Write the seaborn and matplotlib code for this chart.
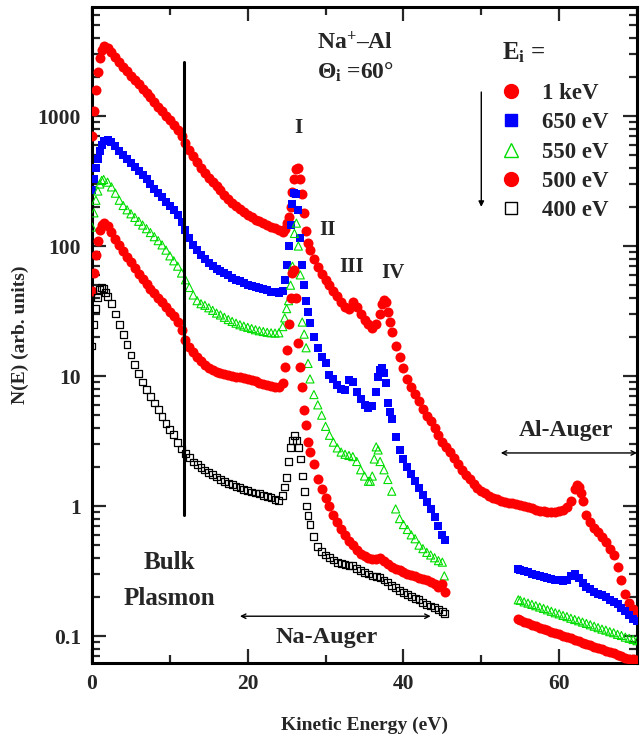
import numpy as np
import pandas as pd
import seaborn as sns
import matplotlib
matplotlib.use("Agg")
import matplotlib.pyplot as plt
from matplotlib.lines import Line2D
from matplotlib.ticker import LogLocator, FixedLocator, NullFormatter

# ---------------- data ----------------
# 1 keV (red filled circles), continuous 0-70 eV
e1000_x = [0, 0.25, 0.5, 0.75, 1.0, 1.25, 1.5, 2, 2.5, 3, 3.5, 4, 4.5, 5, 5.5, 6, 6.5, 7, 7.5, 8,
           8.5, 9, 9.5, 10, 10.5, 11, 11.5, 12, 12.5, 13, 13.5, 14, 14.5, 15, 15.5, 16, 16.5, 17,
           17.5, 18, 18.5, 19, 19.5, 20, 20.5, 21, 21.5, 22, 22.5, 23, 23.5, 24, 24.5, 24.75, 25,
           25.25, 25.5, 25.75, 26, 26.25, 26.5, 26.75, 27, 27.25, 27.5, 27.75, 28, 28.5, 29, 29.5,
           30, 30.5, 31, 31.5, 32, 32.5, 33, 33.5, 34, 34.5, 35, 35.5, 36, 36.5, 37, 37.25, 37.5,
           37.75, 38, 38.25, 38.5, 39, 39.5, 40, 40.5, 41, 41.5, 42, 42.5, 43, 43.5, 44, 44.5, 45,
           45.5, 46, 46.5, 47, 47.5, 48, 48.5, 49, 49.5, 50, 50.5, 51, 51.5, 52, 52.5, 53, 53.5,
           54, 54.5, 55, 55.5, 56, 56.5, 57, 57.5, 58, 58.5, 59, 59.5, 60, 60.5, 61, 61.5, 62,
           62.25, 62.5, 62.75, 63, 63.5, 64, 64.5, 65, 65.5, 66, 66.5, 67, 67.5, 68, 68.5, 69,
           69.5, 70]
e1000_y = [700, 1100, 1600, 2200, 2800, 3250, 3450, 3350, 3100, 2850, 2620, 2400, 2220, 2050, 1900,
           1760, 1620, 1500, 1390, 1280, 1180, 1090, 1000, 930, 860, 780, 700, 620, 550, 490, 440,
           400, 365, 335, 310, 288, 268, 248, 230, 215, 202, 192, 182, 174, 166, 160, 155, 150,
           145, 141, 137, 132, 128, 135, 150, 168, 200, 260, 330, 390, 400, 330, 250, 180, 130,
           105, 93, 80, 69, 61, 55, 50, 45, 41, 37, 34, 33, 37, 34, 30, 27, 25, 23.5, 25, 30, 36,
           38.5, 37, 31, 26, 22, 17, 14, 11.5, 9.5, 8.3, 7.3, 6.4, 5.6, 4.9, 4.5, 4.0, 3.5, 3.1,
           2.85, 2.6, 2.35, 2.1, 1.9, 1.72, 1.6, 1.48, 1.38, 1.3, 1.25, 1.2, 1.16, 1.13, 1.1,
           1.08, 1.06, 1.05, 1.04, 1.02, 1.0, 0.98, 0.96, 0.94, 0.92, 0.91, 0.9, 0.9, 0.9, 0.92,
           0.94, 0.98, 1.1, 1.35, 1.45, 1.4, 1.25, 1.1, 0.85, 0.75, 0.68, 0.63, 0.58, 0.53, 0.47,
           0.42, 0.34, 0.27, 0.21, 0.18, 0.16, 0.15]

# 650 eV (blue filled squares), two segments
e650_x1 = [0, 0.25, 0.5, 0.75, 1.0, 1.25, 1.5, 2, 2.5, 3, 3.5, 4, 4.5, 5, 5.5, 6, 6.5, 7, 7.5, 8,
           8.5, 9, 9.5, 10, 10.5, 11, 11.5, 12, 12.5, 13, 13.5, 14, 14.5, 15, 15.5, 16, 16.5, 17,
           17.5, 18, 18.5, 19, 19.5, 20, 20.5, 21, 21.5, 22, 22.5, 23, 23.5, 24, 24.5, 24.75, 25,
           25.25, 25.5, 25.75, 26, 26.25, 26.5, 26.75, 27, 27.25, 27.5, 27.75, 28, 28.5, 29, 29.5,
           30, 30.5, 31, 31.5, 32, 32.5, 33, 33.5, 34, 34.5, 35, 35.5, 36, 36.5, 36.75, 37, 37.25,
           37.5, 37.75, 38, 38.25, 38.5, 39, 39.5, 40, 40.5, 41, 41.5, 42, 42.5, 43, 43.5, 44,
           44.5, 45, 45.3]
e650_y1 = [270, 330, 400, 470, 540, 600, 640, 655, 630, 590, 540, 500, 465, 435, 405, 378, 350,
           325, 300, 275, 255, 237, 220, 205, 190, 172, 152, 133, 115, 102, 93, 85, 79, 74, 70, 67,
           64.5, 62, 59.5, 57, 55, 53.5, 52, 50.5, 49.5, 48.5, 47.5, 46.5, 45.5, 44.5, 44, 43.5,
           45, 55, 72, 100, 145, 210, 255, 250, 190, 115, 72, 50, 38, 31, 25.6, 20, 16.5, 14, 12.5,
           10.2, 9.5, 8.6, 7.9, 7.8, 9.3, 9.0, 7.6, 6.6, 6.0, 5.7, 5.9, 7.5, 9.8, 11.2, 11.5, 10.5,
           8.9, 6.2, 5.3, 4.7, 3.4, 2.7, 2.3, 2.0, 1.75, 1.55, 1.38, 1.22, 1.08, 0.95, 0.82, 0.7,
           0.6, 0.55]
e650_x2 = [54.75, 55, 55.5, 56, 56.5, 57, 57.5, 58, 58.5, 59, 59.5, 60, 60.5, 61, 61.5, 62, 62.5,
           63, 63.5, 64, 64.5, 65, 65.5, 66, 66.5, 67, 67.5, 68, 68.5, 69, 69.5, 70]
e650_y2 = [0.325, 0.32, 0.315, 0.31, 0.30, 0.295, 0.29, 0.285, 0.28, 0.275, 0.27, 0.268, 0.265,
           0.27, 0.29, 0.30, 0.28, 0.255, 0.24, 0.23, 0.22, 0.21, 0.205, 0.198, 0.19, 0.182,
           0.175, 0.165, 0.155, 0.145, 0.135, 0.13]

# 550 eV (green open triangles), two segments
e550_x1 = [0, 0.25, 0.5, 0.75, 1.0, 1.25, 1.5, 2, 2.5, 3, 3.5, 4, 4.5, 5, 5.5, 6, 6.5, 7, 7.5, 8,
           8.5, 9, 9.5, 10, 10.5, 11, 11.5, 12, 12.5, 13, 13.5, 14, 14.5, 15, 15.5, 16, 16.5, 17,
           17.5, 18, 18.5, 19, 19.5, 20, 20.5, 21, 21.5, 22, 22.5, 23, 23.5, 24, 24.5, 24.75, 25,
           25.25, 25.5, 25.75, 26, 26.25, 26.5, 26.75, 27, 27.25, 27.5, 27.75, 28, 28.5, 29, 29.5,
           30, 30.5, 31, 31.5, 32, 32.5, 33, 33.5, 34, 34.5, 35, 35.5, 35.75, 36, 36.25, 36.5,
           36.75, 37, 37.5, 38, 38.5, 39, 39.5, 40, 40.5, 41, 41.5, 42, 42.5, 43, 43.5, 44, 44.5,
           45, 45.25]
e550_y1 = [140, 180, 225, 265, 300, 320, 325, 310, 285, 255, 225, 205, 190, 177, 166, 155, 145,
           136, 127, 118, 110, 102, 93, 84, 77, 70, 62, 55, 48, 42, 38, 36, 35, 33.5, 32, 30.5,
           29.5, 28.3, 27.2, 26.3, 25.5, 24.8, 24.2, 23.7, 23.2, 22.7, 22.3, 22, 21.7, 21.5, 21.4,
           21.5, 24, 28, 33, 38, 50, 70, 125, 150, 100, 60, 26, 21, 16.5, 12.5, 9.5, 7.2, 6.0,
           5.0, 4.1, 3.5, 3.1, 2.8, 2.6, 2.5, 2.45, 2.4, 2.2, 1.9, 1.7, 1.55, 1.55, 1.7, 2.3,
           2.85, 2.7, 2.2, 1.9, 1.6, 1.3, 0.95, 0.8, 0.72, 0.66, 0.6, 0.56, 0.5, 0.47, 0.44, 0.42,
           0.4, 0.38, 0.37, 0.29]
e550_x2 = [54.75, 55, 55.5, 56, 56.5, 57, 57.5, 58, 58.5, 59, 59.5, 60, 60.5, 61, 61.5, 62, 62.5,
           63, 63.5, 64, 64.5, 65, 65.5, 66, 66.5, 67, 67.5, 68, 68.5, 69, 69.5, 70]
e550_y2 = [0.19, 0.188, 0.183, 0.179, 0.175, 0.171, 0.167, 0.163, 0.159, 0.155, 0.151, 0.148,
           0.144, 0.141, 0.137, 0.134, 0.131, 0.128, 0.125, 0.122, 0.119, 0.116, 0.113, 0.111,
           0.108, 0.106, 0.103, 0.101, 0.098, 0.096, 0.094, 0.092]

# 500 eV (red filled circles), two segments
e500_x1 = [0, 0.25, 0.5, 0.75, 1.0, 1.25, 1.5, 2, 2.5, 3, 3.5, 4, 4.5, 5, 5.5, 6, 6.5, 7, 7.5, 8,
           8.5, 9, 9.5, 10, 10.5, 11, 11.5, 12, 12.5, 13, 13.5, 14, 14.5, 15, 15.5, 16, 16.5, 17,
           17.5, 18, 18.5, 19, 19.5, 20, 20.5, 21, 21.5, 22, 22.5, 23, 23.5, 24, 24.5, 24.75, 25,
           25.25, 25.5, 25.75, 26, 26.25, 26.5, 26.75, 27, 27.25, 27.5, 27.75, 28, 28.5, 29, 29.5,
           30, 30.5, 31, 31.5, 32, 32.5, 33, 33.5, 34, 34.5, 35, 35.5, 36, 36.5, 37, 37.5, 38,
           38.5, 39, 39.5, 40, 40.5, 41, 41.5, 42, 42.5, 43, 43.5, 44, 44.5, 45, 45.3]
e500_y1 = [45, 62, 85, 110, 132, 146, 150, 142, 128, 114, 102, 92, 83, 75, 68, 61, 56, 51, 47,
           43.5, 40, 37, 34, 31, 29, 26, 22.5, 19, 16.8, 15.3, 14, 13, 12.2, 11.6, 11.1, 10.8,
           10.6, 10.4, 10.2, 10.05, 9.9, 9.8, 9.65, 9.5, 9.3, 9.1, 8.9, 8.7, 8.5, 8.35, 8.2, 8.2,
           8.8, 11.7, 15.8, 25, 40, 62, 65, 40, 18, 11.7, 8.2, 5.5, 4.2, 3.1, 2.6, 2.1, 1.6, 1.35,
           1.15, 1.0, 0.86, 0.75, 0.66, 0.6, 0.54, 0.5, 0.46, 0.43, 0.41, 0.4, 0.39, 0.39, 0.4,
           0.38, 0.36, 0.34, 0.33, 0.32, 0.31, 0.3, 0.295, 0.29, 0.28, 0.275, 0.27, 0.26, 0.25,
           0.24, 0.25, 0.22]
e500_x2 = [54.75, 55, 55.5, 56, 56.5, 57, 57.5, 58, 58.5, 59, 59.5, 60, 60.5, 61, 61.5, 62, 62.5,
           63, 63.5, 64, 64.5, 65, 65.5, 66, 66.5, 67, 67.5, 68, 68.5, 69, 69.5, 70]
e500_y2 = [0.134, 0.132, 0.128, 0.125, 0.122, 0.119, 0.116, 0.114, 0.111, 0.108, 0.105, 0.103,
           0.1, 0.098, 0.096, 0.094, 0.091, 0.089, 0.087, 0.085, 0.083, 0.081, 0.079, 0.077,
           0.075, 0.074, 0.072, 0.07, 0.068, 0.067, 0.066, 0.065]

# 400 eV (black open squares)
e400_x = [0, 0.25, 0.5, 0.75, 1.0, 1.25, 1.5, 1.75, 2, 2.5, 3, 3.5, 4, 4.5, 5, 5.5, 6, 6.5, 7, 7.5,
          8, 8.5, 9, 9.5, 10, 10.5, 11, 11.5, 12, 12.5, 13, 13.5, 14, 14.5, 15, 15.5, 16, 16.5, 17,
          17.5, 18, 18.5, 19, 19.5, 20, 20.5, 21, 21.5, 22, 22.5, 23, 23.5, 24, 24.5, 24.75, 25,
          25.25, 25.5, 25.75, 26, 26.25, 26.5, 26.75, 27, 27.25, 27.5, 27.75, 28, 28.5, 29, 29.5,
          30, 30.5, 31, 31.5, 32, 32.5, 33, 33.5, 34, 34.5, 35, 35.5, 36, 36.5, 37, 37.5, 38,
          38.5, 39, 39.5, 40, 40.5, 41, 41.5, 42, 42.5, 43, 43.5, 44, 44.5, 45, 45.3]
e400_y = [17, 25, 33, 40, 46, 48, 47, 44, 41, 36, 30, 25, 21, 17.5, 14.5, 12.2, 10.4, 9.0, 7.9,
          7.0, 6.2, 5.5, 4.9, 4.3, 3.9, 3.55, 3.1, 2.75, 2.55, 2.35, 2.18, 2.08, 1.98, 1.89, 1.81,
          1.74, 1.67, 1.61, 1.55, 1.5, 1.46, 1.42, 1.38, 1.34, 1.31, 1.28, 1.26, 1.24, 1.21, 1.18,
          1.16, 1.13, 1.11, 1.2, 1.4, 1.65, 2.2, 2.8, 3.2, 3.5, 3.2, 2.8, 2.3, 1.7, 1.3, 1.0, 0.85,
          0.72, 0.58, 0.49, 0.45, 0.42, 0.4, 0.385, 0.37, 0.36, 0.355, 0.35, 0.35, 0.33, 0.32,
          0.31, 0.3, 0.29, 0.285, 0.28, 0.27, 0.26, 0.245, 0.235, 0.225, 0.215, 0.21, 0.2, 0.195,
          0.19, 0.18, 0.175, 0.17, 0.165, 0.16, 0.155, 0.15]

legend_labels = ["1 keV", "650 eV", "550 eV", "500 eV", "400 eV"]
x_ticks = [0, 20, 40, 60]
y_ticks = [0.1, 1, 10, 100, 1000]
y_tick_labels = ["0.1", "1", "10", "100", "1000"]

# ---------------- styling ----------------
sns.set_theme(style="ticks")
plt.rcParams["font.family"] = ["Liberation Serif", "DejaVu Serif"]
plt.rcParams["font.weight"] = "bold"
plt.rcParams["axes.labelweight"] = "bold"
plt.rcParams["mathtext.fontset"] = "custom"
plt.rcParams["mathtext.rm"] = "Liberation Serif:bold"
plt.rcParams["mathtext.it"] = "Liberation Serif:bold"
plt.rcParams["mathtext.bf"] = "Liberation Serif:bold"
plt.rcParams["mathtext.default"] = "rm"

RED, BLUE, GREEN, BLACK = "#ff0000", "#0000ff", "#00dd00", "#000000"

fig = plt.figure(figsize=(6.42, 7.43), dpi=100)
ax = fig.add_axes([92 / 642, 1 - 663 / 743, 545 / 642, 656 / 743])

series = [
    (e1000_x, e1000_y, dict(marker="o", s=52, color=RED, linewidth=0)),
    (e650_x1, e650_y1, dict(marker="s", s=40, color=BLUE, linewidth=0)),
    (e650_x2, e650_y2, dict(marker="s", s=40, color=BLUE, linewidth=0)),
    (e550_x1, e550_y1, dict(marker="^", s=34, facecolor="none", edgecolor=GREEN, linewidth=0.8)),
    (e550_x2, e550_y2, dict(marker="^", s=34, facecolor="none", edgecolor=GREEN, linewidth=0.8)),
    (e500_x1, e500_y1, dict(marker="o", s=52, color=RED, linewidth=0)),
    (e500_x2, e500_y2, dict(marker="o", s=52, color=RED, linewidth=0)),
    (e400_x, e400_y, dict(marker="s", s=24, facecolor="none", edgecolor=BLACK, linewidth=0.9)),
]
for xs, ys, kw in series:
    df = pd.DataFrame({"E": xs, "N": ys})
    sns.scatterplot(data=df, x="E", y="N", ax=ax, legend=False, zorder=3, **kw)

ax.set_yscale("log")
ax.set_xlim(0, 70)
ax.set_ylim(0.062, 6900)

ax.xaxis.set_major_locator(FixedLocator(x_ticks))
ax.xaxis.set_minor_locator(FixedLocator([10, 30, 50, 70]))
ax.yaxis.set_major_locator(FixedLocator(y_ticks))
ax.set_yticklabels(y_tick_labels)
ax.yaxis.set_minor_locator(LogLocator(base=10, subs=np.arange(2, 10), numticks=20))
ax.yaxis.set_minor_formatter(NullFormatter())
ax.tick_params(which="both", direction="in", top=True, right=True, width=1.6,
               labelsize=15.5, pad=8)
ax.tick_params(which="major", length=10)
ax.tick_params(which="minor", length=5.5)
for sp in ax.spines.values():
    sp.set_linewidth(2.2)
    sp.set_color("black")

ax.set_xlabel("Kinetic Energy (eV)", fontsize=14, labelpad=16)
ax.set_ylabel("N(E) (arb. units)", fontsize=14, labelpad=6)

# ---------------- annotations ----------------
PLASMON_E = 11.8
ax.plot([PLASMON_E, PLASMON_E], [0.85, 2600], color="black", lw=2.2, zorder=4)
ax.text(10.0, 0.37, "Bulk", ha="center", va="center", fontsize=18)
ax.text(10.0, 0.196, "Plasmon", ha="center", va="center", fontsize=18)

ax.annotate("", xy=(19, 0.142), xytext=(43.5, 0.142),
            arrowprops=dict(arrowstyle="<->", lw=1.0, color="black", mutation_scale=8,
                            shrinkA=0, shrinkB=0))
ax.text(30.2, 0.098, "Na-Auger", ha="center", va="center", fontsize=17.5)

ax.annotate("", xy=(52.5, 2.56), xytext=(70, 2.56),
            arrowprops=dict(arrowstyle="<->", lw=1.0, color="black", mutation_scale=8,
                            shrinkA=0, shrinkB=0))
ax.text(60.9, 3.84, "Al-Auger", ha="center", va="center", fontsize=17)

ax.text(26.5, 810, "I", ha="center", va="center", fontsize=15)
ax.text(30.3, 133, "II", ha="center", va="center", fontsize=15)
ax.text(33.4, 69, "III", ha="center", va="center", fontsize=15)
ax.text(38.7, 62, "IV", ha="center", va="center", fontsize=15)

ax.text(28.9, 3650, r"Na$^{+}$–Al", ha="left", va="center", fontsize=17)
ax.text(28.9, 2165, r"Θ$_{i}$ =60°", ha="left", va="center", fontsize=17)

ax.annotate("", xy=(50, 200), xytext=(50, 1530),
            arrowprops=dict(arrowstyle="-|>", lw=1.0, color="black", mutation_scale=8,
                            shrinkA=0, shrinkB=0))

# ---------------- legend ----------------
ax.text((502 - 92) / 545, 1 - (53 - 7) / 656, r"E$_{i}$ =", transform=ax.transAxes,
        ha="left", va="center", fontsize=18)
handles = [
    Line2D([], [], linestyle="", marker="o", markersize=10, color=RED),
    Line2D([], [], linestyle="", marker="s", markersize=9, color=BLUE),
    Line2D([], [], linestyle="", marker="^", markersize=10, markerfacecolor="none",
           markeredgecolor=GREEN, markeredgewidth=1.0),
    Line2D([], [], linestyle="", marker="o", markersize=10, color=RED),
    Line2D([], [], linestyle="", marker="s", markersize=9, markerfacecolor="none",
           markeredgecolor=BLACK, markeredgewidth=1.0),
]
leg = ax.legend(handles, legend_labels, loc="upper left",
                bbox_to_anchor=((500 - 92) / 545, 1 - (83 - 7) / 656), frameon=False,
                fontsize=16.5, handlelength=1.0, handletextpad=0.85,
                labelspacing=0.36, borderpad=0, borderaxespad=0)

fig.savefig("out.png", dpi=100)
